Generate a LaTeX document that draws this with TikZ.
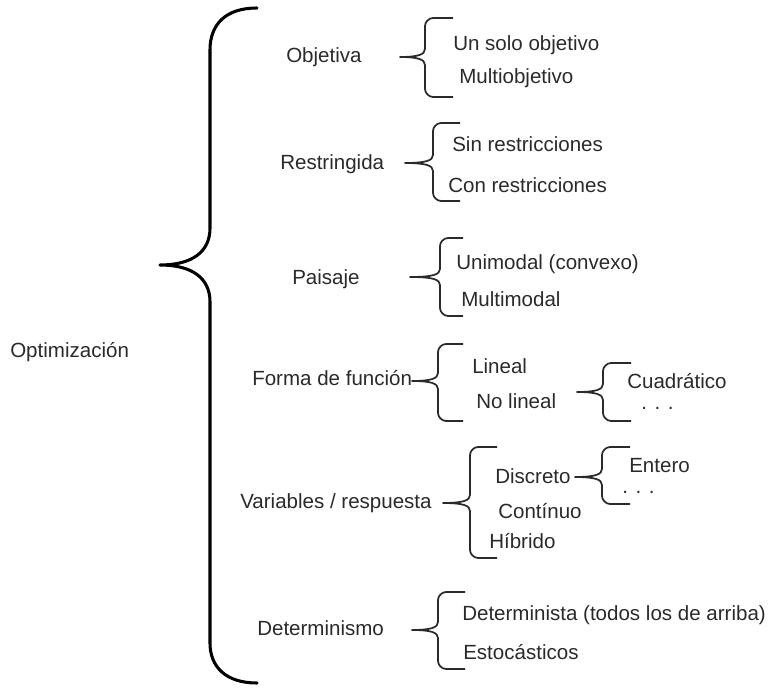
\documentclass[tikz,border=0pt]{standalone}
\usepackage{fontspec}
\setmainfont{Liberation Sans}
\definecolor{ink}{HTML}{2A2A2A}
% small curly brace: #1 tip x, #2 tip y, #3 spine x, #4 arm end x, #5 top y, #6 bottom y
\newcommand\smallbrace[6]{%
  \draw[sbr] (#4,#5) -- (#3+8,#5)
    .. controls (#3+3.6,#5) and (#3,#5+4.4) .. (#3,#5+8)
    -- (#3,#2-8)
    .. controls (#3,#2-2.5) and (#3-7,#2) .. (#1,#2)
    .. controls (#3-7,#2) and (#3,#2+2.5) .. (#3,#2+8)
    -- (#3,#6-8)
    .. controls (#3,#6-4.4) and (#3+3.6,#6) .. (#3+8,#6)
    -- (#4,#6);}
\begin{document}
\begin{tikzpicture}[x=0.75pt,y=-0.75pt,
  lbl/.style={anchor=base west, inner sep=0pt, text=ink,
    font=\fontsize{15.4}{18}\selectfont},
  sbr/.style={draw=ink, line width=1.3pt, line join=round},
  bigbr/.style={draw=black, line width=2.3pt, line join=round, line cap=round}]
\useasboundingbox (0,0) rectangle (768,691);

% root and main brace
\node[lbl] (root) at (10,358) {Optimización};
\draw[bigbr] (257,8) .. controls (226,8) and (210,24) .. (210,50)
  -- (210,228) .. controls (210,252) and (192,265) .. (160,265)
  .. controls (192,265) and (210,278) .. (210,302)
  -- (210,643) .. controls (210,667) and (226,683) .. (257,683);

% Objetiva
\node[lbl] (obj) at (286,63) {Objetiva};
\smallbrace{400}{57}{425}{453}{18}{97}
\node[lbl] (obj1) at (453,51) {Un solo objetivo};
\node[lbl] (obj2) at (459,84) {Multiobjetivo};

% Restringida
\node[lbl] (res) at (280,170) {Restringida};
\smallbrace{405}{163}{433}{460}{123}{201}
\node[lbl] (res1) at (452,152) {Sin restricciones};
\node[lbl] (res2) at (448,193) {Con restricciones};

% Paisaje
\node[lbl] (pai) at (292,285) {Paisaje};
\smallbrace{410}{277}{440}{463}{238}{316}
\node[lbl] (pai1) at (456,270) {Unimodal (convexo)};
\node[lbl] (pai2) at (461,307) {Multimodal};

% Forma de funcion
\node[lbl] (fun) at (252,386) {Forma de función};
\coordinate (t4) at (412,381);
\draw[sbr] (fun.east |- t4) -- (t4);
\smallbrace{412}{381}{438}{463}{344}{421}
\node[lbl] (fun1) at (472,374) {Lineal};
\node[lbl] (fun2) at (476,409) {No lineal};
\smallbrace{577}{392}{603}{631}{363}{421}
\node[lbl] (fun3) at (627,389) {Cuadrático};
\node[lbl] (fun4) at (641,410) {. . .};

% Variables / respuesta
\node[lbl] (var) at (240,509) {Variables / respuesta};
\smallbrace{443}{503}{470}{497}{447}{558}
\node[lbl] (var1) at (495,484) {Discreto};
\node[lbl] (var2) at (498,519) {Contínuo};
\node[lbl] (var3) at (489,548) {Híbrido};
\smallbrace{575}{477}{602}{630}{447}{504}
\node[lbl] (var4) at (629,473) {Entero};
\node[lbl] (var5) at (622,494) {. . .};

% Determinismo
\node[lbl] (det) at (257,635) {Determinismo};
\smallbrace{412}{630}{438}{465}{592}{669}
\node[lbl] (det1) at (462,620) {Determinista (todos los de arriba)};
\node[lbl] (det2) at (463,659) {Estocásticos};
\end{tikzpicture}
\end{document}
